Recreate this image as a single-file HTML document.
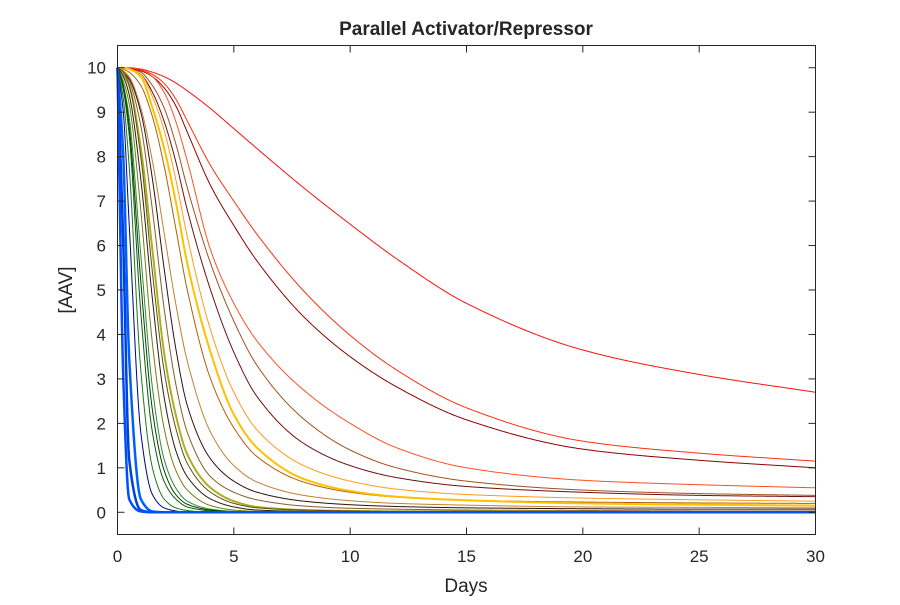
<!DOCTYPE html>
<html><head><meta charset="utf-8"><style>
body{margin:0;background:#fff;}
svg text{font-family:"Liberation Sans",Arial,sans-serif;fill:#262626;}
</style></head><body>
<svg id="chart" width="900" height="600">
<rect x="0" y="0" width="900" height="600" fill="#fff"/>
<text x="466" y="35" font-size="19" font-weight="bold" text-anchor="middle" fill="#000">Parallel Activator/Repressor</text>
<g id="curves"></g>
<rect x="117.5" y="45.5" width="698" height="489" fill="none" stroke="#262626" stroke-width="1"/>
<g id="axes"></g>
<text x="466" y="592" font-size="19" text-anchor="middle">Days</text>
<text transform="translate(72,290) rotate(-90)" font-size="19" text-anchor="middle">[AAV]</text>
</svg>
<script>
const times = [0,0.25,0.5,1,1.5,2,2.5,3,4,5,6,8,10,12,15,20,25,30];
const xTicks = [0,5,10,15,20,25,30];
const yTicks = [0,1,2,3,4,5,6,7,8,9,10];
const seriesColors = ["#0050ff","#0040e0","#0060ff","#000080","#1a7a1a","#0a5a0a","#2e8b2e","#7a7a10","#202010","#a8b020","#8b5a2b","#301010","#ffc000","#ff9a20","#701010","#a05020","#ff5020","#900000","#ff3010","#ff1010","#6a4a10","#c08030","#004000","#b06000"];
const seriesWidths = [2.5,2.5,2.5,1,1,1,1,1,1,2,1,1,2,1,1,1,1,1,1,1,1,1,1,1];
const seriesValues = [
[10,3,0.3,0.02,0,0,0,0,0,0,0,0,0,0,0,0,0,0],
[10,6,1.2,0.05,0,0,0,0,0,0,0,0,0,0,0,0,0,0],
[10,8,3.5,0.3,0.02,0,0,0,0,0,0,0,0,0,0,0,0,0],
[10,9,6.5,1.8,0.4,0.1,0.03,0,0,0,0,0,0,0,0,0,0,0],
[10,9.3,7.8,3.2,1.0,0.3,0.1,0.04,0,0,0,0,0,0,0,0,0,0],
[10,9.5,8.5,4.5,1.8,0.7,0.3,0.12,0.03,0,0,0,0,0,0,0,0,0],
[10,9.6,8.9,5.8,2.8,1.2,0.55,0.25,0.07,0.02,0,0,0,0,0,0,0,0],
[10,9.7,9.2,6.8,3.8,1.9,0.95,0.5,0.15,0.05,0.02,0,0,0,0,0,0,0],
[10,9.8,9.4,7.5,4.8,2.6,1.4,0.8,0.3,0.12,0.05,0.02,0.01,0,0,0,0,0],
[10,9.85,9.6,8.2,5.9,3.6,2.2,1.3,0.55,0.25,0.12,0.05,0.03,0.02,0.02,0.01,0,0],
[10,9.9,9.7,8.7,6.8,4.6,2.9,1.8,0.8,0.45,0.28,0.14,0.09,0.07,0.05,0.04,0.03,0.03],
[10,9.9,9.75,9.0,7.5,5.5,3.7,2.4,1.2,0.7,0.45,0.25,0.17,0.13,0.1,0.08,0.07,0.07],
[10,10,9.97,9.8,9.1,8.2,7.0,5.6,3.6,2.2,1.45,0.75,0.48,0.35,0.27,0.2,0.17,0.15],
[10,10,9.97,9.85,9.35,8.6,7.5,6.2,4.1,2.7,1.85,1.05,0.7,0.52,0.4,0.32,0.28,0.25],
[10,10,9.97,9.85,9.45,8.8,7.9,6.8,5.0,3.6,2.6,1.55,1.05,0.78,0.58,0.45,0.38,0.35],
[10,10,9.98,9.9,9.6,9.1,8.3,7.3,5.6,4.3,3.3,2.1,1.4,1.0,0.7,0.5,0.42,0.38],
[10,10,10,9.95,9.8,9.45,8.8,7.9,5.9,4.7,3.85,2.75,2.0,1.45,1.0,0.72,0.62,0.55],
[10,10,9.99,9.93,9.8,9.55,9.15,8.55,7.35,6.45,5.65,4.4,3.5,2.82,2.08,1.42,1.17,1.0],
[10,10,9.99,9.95,9.85,9.65,9.3,8.8,7.8,7.0,6.25,4.98,3.98,3.2,2.35,1.6,1.33,1.15],
[10,10,10,9.97,9.9,9.8,9.66,9.48,9.08,8.63,8.18,7.3,6.48,5.7,4.7,3.65,3.1,2.7],
[10,9.9,9.6,8.0,5.4,3.2,1.9,1.1,0.45,0.2,0.1,0.05,0.03,0.02,0.02,0.01,0,0],
[10,9.93,9.8,9.1,7.9,6.3,4.7,3.4,1.8,1.05,0.68,0.38,0.26,0.2,0.16,0.12,0.11,0.1],
[10,9.6,8.7,5.2,2.3,0.95,0.4,0.18,0.05,0.01,0,0,0,0,0,0,0,0],
[10,9.97,9.9,9.6,8.9,7.8,6.4,5.0,3.0,1.9,1.25,0.68,0.45,0.34,0.27,0.23,0.21,0.2]
];
const X0=117.5,X1=815.5,Y0=534.5,Y1=45.5;
function xs(t){return X0+(t-0)/(30-0)*(X1-X0);}
function ys(v){return Y0-(v+0.5)/(11)*(Y0-Y1);}
const NS="http://www.w3.org/2000/svg";
const g=document.getElementById('curves');
function pathFor(vals){
  const n=times.length, d=[], m=new Array(n).fill(0);
  for(let i=0;i<n-1;i++) d.push((vals[i+1]-vals[i])/(times[i+1]-times[i]));
  m[0]=d[0]; m[n-1]=d[n-2];
  for(let i=1;i<n-1;i++){
    if(d[i-1]*d[i]<=0){m[i]=0;continue;}
    const h0=times[i]-times[i-1],h1=times[i+1]-times[i];
    const w1=2*h1+h0,w2=h1+2*h0;
    m[i]=(w1+w2)/(w1/d[i-1]+w2/d[i]);
  }
  let pts=[];
  for(let i=0;i<n-1;i++){
    const h=times[i+1]-times[i], steps=Math.max(8,Math.ceil(h*25));
    for(let s=0;s<steps;s++){
      const u=s/steps,u2=u*u,u3=u2*u;
      const v=(2*u3-3*u2+1)*vals[i]+(u3-2*u2+u)*h*m[i]+(-2*u3+3*u2)*vals[i+1]+(u3-u2)*h*m[i+1];
      pts.push(xs(times[i]+u*h).toFixed(2)+','+ys(v).toFixed(2));
    }
  }
  pts.push(xs(times[n-1]).toFixed(2)+','+ys(vals[n-1]).toFixed(2));
  return 'M'+pts.join(' L');
}
const order=[19,18,17,16,15,14,13,23,12,21,11,10,9,20,8,7,6,22,5,4,3,2,1,0];
order.forEach(i=>{
  const el=document.createElementNS(NS,'path');
  el.setAttribute('d',pathFor(seriesValues[i]));
  el.setAttribute('fill','none');
  el.setAttribute('stroke',seriesColors[i]);
  el.setAttribute('stroke-width',seriesWidths[i]);
  el.setAttribute('stroke-linejoin','round');
  
  
  g.appendChild(el);
});
const ax=document.getElementById('axes');
xTicks.forEach(t=>{
  const x=xs(t);
  [[Y0,Y0-7],[Y1,Y1+7]].forEach(([a,b])=>{
    const l=document.createElementNS(NS,'line');
    l.setAttribute('x1',x);l.setAttribute('x2',x);l.setAttribute('y1',a);l.setAttribute('y2',b);
    l.setAttribute('stroke','#262626');
    
    
    ax.appendChild(l);
  });
  const tx=document.createElementNS(NS,'text');
  tx.setAttribute('x',x);tx.setAttribute('y',562);tx.setAttribute('font-size','17');tx.setAttribute('text-anchor','middle');
  tx.textContent=t;
  
  
  ax.appendChild(tx);
});
yTicks.forEach(v=>{
  const y=ys(v);
  [[X0,X0+7],[X1,X1-7]].forEach(([a,b])=>{
    const l=document.createElementNS(NS,'line');
    l.setAttribute('y1',y);l.setAttribute('y2',y);l.setAttribute('x1',a);l.setAttribute('x2',b);
    l.setAttribute('stroke','#262626');
    
    
    ax.appendChild(l);
  });
  const tx=document.createElementNS(NS,'text');
  tx.setAttribute('x',106);tx.setAttribute('y',y+6);tx.setAttribute('font-size','17');tx.setAttribute('text-anchor','end');
  tx.textContent=v;
  
  
  ax.appendChild(tx);
});
</script>
</body></html>
